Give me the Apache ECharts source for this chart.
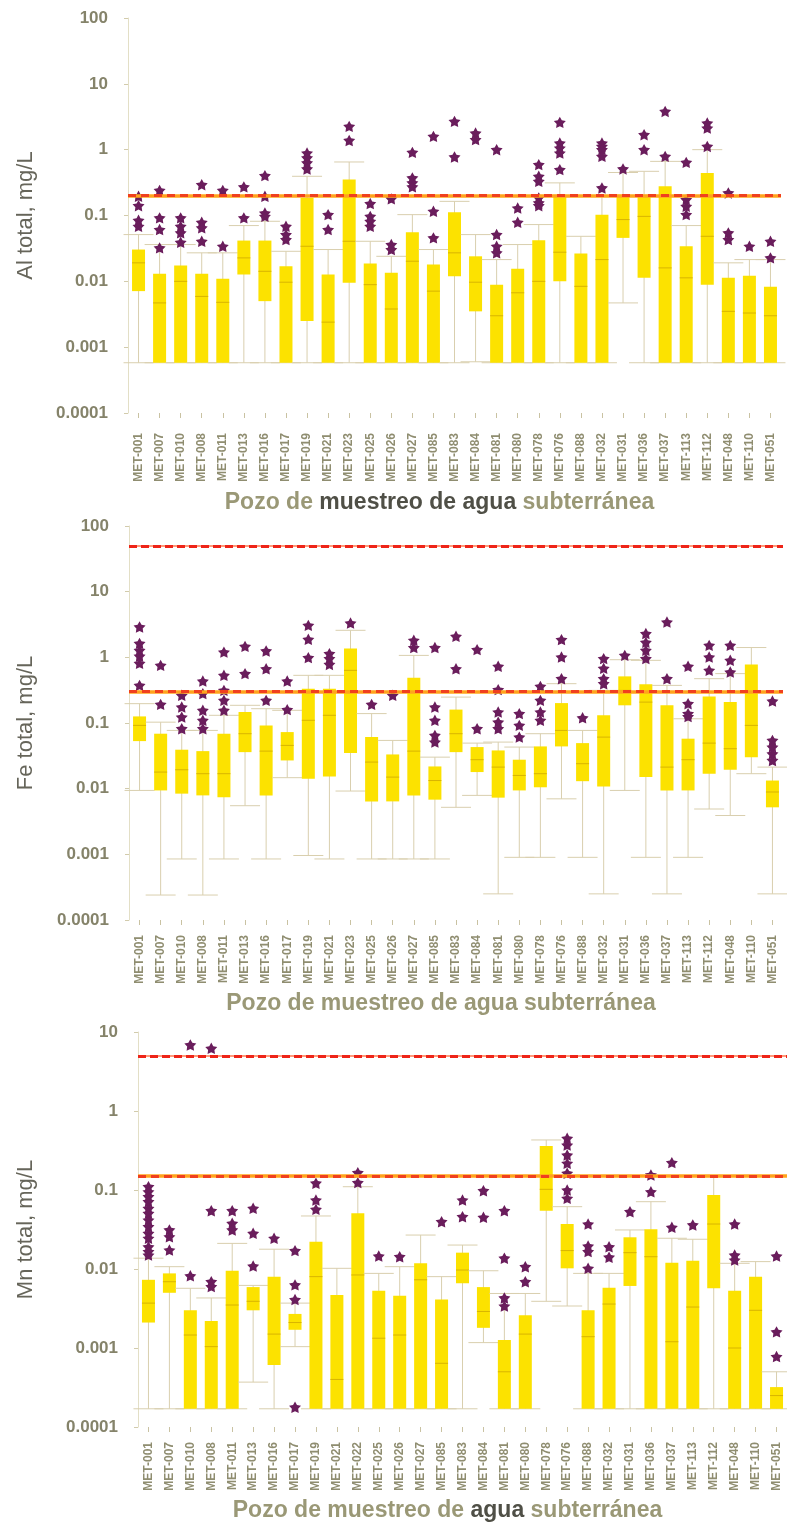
<!DOCTYPE html>
<html>
<head>
<meta charset="utf-8">
<script src="https://cdn.jsdelivr.net/npm/echarts@6/dist/echarts.min.js"></script>
<style>
  html, body { margin: 0; padding: 0; background: #ffffff; }
  #chart { width: 787px; height: 1525px; }
</style>
</head>
<body>
<div id="chart"></div>
<script>
// Sampling wells (Al and Fe panels)
const wellsAlFe = ['MET-001','MET-007','MET-010','MET-008','MET-011','MET-013','MET-016','MET-017','MET-019','MET-021','MET-023','MET-025','MET-026','MET-027','MET-085','MET-083','MET-084','MET-081','MET-080','MET-078','MET-076','MET-088','MET-032','MET-031','MET-036','MET-037','MET-113','MET-112','MET-048','MET-110','MET-051'];
// Sampling wells (Mn panel)
const wellsMn = ['MET-001','MET-007','MET-010','MET-008','MET-011','MET-013','MET-016','MET-017','MET-019','MET-021','MET-022','MET-025','MET-026','MET-027','MET-085','MET-083','MET-084','MET-081','MET-080','MET-078','MET-076','MET-088','MET-032','MET-031','MET-036','MET-037','MET-113','MET-112','MET-048','MET-110','MET-051'];

// Aluminium: [min, Q1, median, Q3, max] in mg/L
const alBoxes = [
  [0.00058, 0.0071, 0.0191, 0.0304, 0.0513],
  [0.00058, 0.00058, 0.0047, 0.0130, 0.0362],
  [0.00058, 0.00058, 0.0100, 0.0174, 0.0362],
  [0.00058, 0.00058, 0.0059, 0.0130, 0.0271],
  [0.00058, 0.00058, 0.0048, 0.0109, 0.0271],
  [0.00058, 0.0127, 0.0227, 0.0416, 0.0703],
  [0.00058, 0.0050, 0.0142, 0.0416, 0.0817],
  [0.00058, 0.00058, 0.0097, 0.0170, 0.0286],
  [0.00058, 0.0025, 0.0341, 0.185, 0.394],
  [0.00058, 0.00058, 0.0024, 0.0127, 0.0304],
  [0.00058, 0.0095, 0.0406, 0.351, 0.65],
  [0.00058, 0.00058, 0.0089, 0.0186, 0.0406],
  [0.00058, 0.00058, 0.0038, 0.0135, 0.024],
  [0.00058, 0.00058, 0.0202, 0.0556, 0.103],
  [0.00058, 0.00058, 0.0071, 0.018, 0.0304],
  [0.00058, 0.0119, 0.0271, 0.112, 0.164],
  [0.0006, 0.0035, 0.0097, 0.024, 0.0513],
  [0.00058, 0.00058, 0.0030, 0.0089, 0.0214],
  [0.00058, 0.00058, 0.0067, 0.0155, 0.0362],
  [0.00058, 0.00058, 0.0100, 0.0421, 0.0728],
  [0.00058, 0.0100, 0.0277, 0.207, 0.313],
  [0.00058, 0.00058, 0.0084, 0.0264, 0.0483],
  [0.00058, 0.00058, 0.0214, 0.103, 0.2],
  [0.0047, 0.0457, 0.0867, 0.207, 0.45],
  [0.00058, 0.0113, 0.097, 0.207, 0.469],
  [0.00058, 0.00058, 0.016, 0.277, 0.664],
  [0.00058, 0.00058, 0.0113, 0.0341, 0.0703],
  [0.00058, 0.0089, 0.0483, 0.443, 1.0],
  [0.00058, 0.00058, 0.0035, 0.0113, 0.0191],
  [0.00058, 0.00058, 0.0033, 0.0122, 0.0214],
  [0.00058, 0.00058, 0.0030, 0.0083, 0.0214]
];
const alOutliers = [
  [0.196, 0.141, 0.0846, 0.0686],
  [0.241, 0.092, 0.0611, 0.0322],
  [0.092, 0.0686, 0.0544, 0.0392],
  [0.294, 0.0789, 0.0649, 0.0406],
  [0.241, 0.0341],
  [0.272, 0.092],
  [0.403, 0.196, 0.109, 0.097],
  [0.0686, 0.0513, 0.0431],
  [0.89, 0.748, 0.628, 0.509],
  [0.103, 0.0611],
  [2.26, 1.38],
  [0.152, 0.097, 0.0817, 0.0686],
  [0.179, 0.0362, 0.0304],
  [0.91, 0.372, 0.313, 0.272],
  [1.59, 0.116, 0.0457],
  [2.69, 0.775],
  [1.79, 1.42],
  [1.0, 0.0513, 0.0341, 0.0271],
  [0.130, 0.0789],
  [0.592, 0.394, 0.330, 0.185, 0.155, 0.141],
  [2.60, 1.26, 1.06, 0.89, 0.497],
  [],
  [1.26, 1.12, 1.0, 0.79, 0.262],
  [0.51],
  [1.69, 1.0],
  [3.81, 0.79],
  [0.641, 0.174, 0.138, 0.103],
  [2.54, 2.13, 1.12],
  [0.220, 0.0544, 0.0431],
  [0.0341],
  [0.0406, 0.0227]
];

// Iron: [min, Q1, median, Q3, max] in mg/L
const feBoxes = [
  [0.0094, 0.0530, 0.092, 0.126, 0.197],
  [0.00024, 0.0094, 0.0179, 0.0687, 0.103],
  [0.00085, 0.0084, 0.0194, 0.0392, 0.0771],
  [0.00024, 0.0079, 0.0169, 0.0373, 0.0771],
  [0.00085, 0.0074, 0.0169, 0.0687, 0.131],
  [0.0055, 0.0360, 0.0687, 0.147, 0.186],
  [0.00085, 0.0079, 0.0373, 0.092, 0.165],
  [0.0147, 0.0269, 0.0456, 0.0727, 0.156],
  [0.00096, 0.0142, 0.110, 0.333, 0.532],
  [0.00085, 0.0153, 0.131, 0.333, 0.532],
  [0.0092, 0.0348, 0.634, 1.36, 2.58],
  [0.00085, 0.0064, 0.0254, 0.0610, 0.139],
  [0.00085, 0.0064, 0.0150, 0.0332, 0.0543],
  [0.00085, 0.0079, 0.0373, 0.49, 1.07],
  [0.00085, 0.0068, 0.0133, 0.0218, 0.0302],
  [0.0052, 0.0360, 0.0687, 0.160, 0.248],
  [0.0079, 0.0179, 0.0276, 0.0430, 0.0494],
  [0.00025, 0.0073, 0.0213, 0.0382, 0.0512],
  [0.0009, 0.0094, 0.0159, 0.0276, 0.0430],
  [0.0009, 0.0105, 0.0169, 0.0440, 0.0687],
  [0.0070, 0.0440, 0.0771, 0.201, 0.397],
  [0.0009, 0.0130, 0.0240, 0.0494, 0.0771],
  [0.00025, 0.0108, 0.0610, 0.131, 0.314],
  [0.0094, 0.186, 0.314, 0.513, 0.92],
  [0.0009, 0.0150, 0.208, 0.388, 0.90],
  [0.00025, 0.0094, 0.0213, 0.186, 0.374],
  [0.0009, 0.0094, 0.0276, 0.0577, 0.116],
  [0.0049, 0.0169, 0.0494, 0.254, 0.473],
  [0.0039, 0.0194, 0.0406, 0.208, 0.565],
  [0.0169, 0.0302, 0.092, 0.78, 1.41],
  [0.00025, 0.0052, 0.0089, 0.0133, 0.0213]
];
const feOutliers = [
  [2.90, 1.63, 1.28, 1.04, 0.81, 0.374],
  [0.755, 0.192],
  [0.264, 0.175, 0.123, 0.0818],
  [0.435, 0.280, 0.156, 0.110, 0.0818],
  [1.20, 0.532, 0.314, 0.221, 0.156],
  [1.47, 0.565],
  [1.25, 0.67, 0.221],
  [0.435, 0.160],
  [3.07, 1.88, 0.99],
  [1.14, 0.955, 0.78],
  [3.33],
  [0.192],
  [0.264],
  [1.82, 1.41],
  [1.41, 0.175, 0.110, 0.0647, 0.0512],
  [2.09, 0.67],
  [1.31, 0.0818],
  [0.73, 0.322, 0.147, 0.103, 0.0818],
  [0.139, 0.092, 0.061],
  [0.361, 0.221, 0.147, 0.110],
  [1.86, 1.01, 0.473],
  [0.120],
  [0.955, 0.68, 0.473, 0.397],
  [1.07],
  [2.30, 1.69, 1.28, 0.955],
  [3.45, 0.473],
  [0.73, 0.197, 0.139, 0.125],
  [1.52, 1.01, 0.634],
  [1.52, 0.90, 0.597],
  [],
  [0.216, 0.0543, 0.043, 0.034, 0.0269]
];

// Manganese: [min, Q1, median, Q3, max] in mg/L
const mnBoxes = [
  [0.00017, 0.0021, 0.0037, 0.0073, 0.0137],
  [0.00017, 0.0050, 0.0069, 0.0088, 0.0107],
  [0.00017, 0.00017, 0.00146, 0.0030, 0.0057],
  [0.00017, 0.00017, 0.00104, 0.0022, 0.0043],
  [0.00017, 0.00017, 0.0035, 0.0095, 0.0211],
  [0.00037, 0.0030, 0.0039, 0.0059, 0.0062],
  [0.00017, 0.00061, 0.0015, 0.0080, 0.0178],
  [0.00104, 0.0017, 0.0021, 0.0027, 0.0037],
  [0.00017, 0.00017, 0.0080, 0.0222, 0.0469],
  [0.00017, 0.00017, 0.0004, 0.0047, 0.0102],
  [0.00017, 0.00017, 0.0084, 0.0507, 0.110],
  [0.00017, 0.00017, 0.00133, 0.0053, 0.0088],
  [0.00017, 0.00017, 0.00146, 0.0046, 0.0107],
  [0.00017, 0.00017, 0.0073, 0.0118, 0.0269],
  [0.00017, 0.00017, 0.00064, 0.0041, 0.0080],
  [0.00017, 0.0066, 0.0097, 0.0161, 0.0201],
  [0.00117, 0.0018, 0.0029, 0.0059, 0.0095],
  [0.00017, 0.00017, 0.0005, 0.00126, 0.0049],
  [0.00017, 0.00017, 0.0015, 0.0026, 0.0049],
  [0.0039, 0.0547, 0.102, 0.361, 0.430],
  [0.0034, 0.0102, 0.0171, 0.0371, 0.0615],
  [0.00017, 0.00017, 0.00139, 0.0030, 0.0088],
  [0.00017, 0.00017, 0.0036, 0.0058, 0.0088],
  [0.00017, 0.0061, 0.0161, 0.0252, 0.0312],
  [0.00017, 0.00017, 0.0143, 0.0318, 0.0711],
  [0.00017, 0.00017, 0.0012, 0.0120, 0.0245],
  [0.00017, 0.00017, 0.0033, 0.0127, 0.0238],
  [0.00017, 0.0057, 0.0371, 0.0865, 0.147],
  [0.00017, 0.00017, 0.0010, 0.0053, 0.0118],
  [0.00017, 0.00017, 0.0030, 0.0080, 0.0124],
  [0.00017, 0.00017, 0.00025, 0.00032, 0.0005]
];
const mnOutliers = [
  [0.110, 0.095, 0.0822, 0.0711, 0.0586, 0.0507, 0.0417, 0.0343, 0.0283, 0.0245, 0.0191, 0.0166, 0.015],
  [0.0312, 0.0256, 0.0174],
  [6.85, 0.0082],
  [6.22, 0.0547, 0.0069, 0.0060],
  [0.0547, 0.0379, 0.0312],
  [0.0586, 0.0283, 0.0109],
  [0.0245],
  [0.0171, 0.0063, 0.0041, 0.000178],
  [0.122, 0.0747, 0.057],
  [],
  [0.166, 0.124],
  [0.0146],
  [0.0143],
  [],
  [0.0397],
  [0.0747, 0.0459],
  [0.098, 0.0451],
  [0.0547, 0.0137, 0.0043, 0.0034],
  [0.0107, 0.0069],
  [],
  [0.451, 0.371, 0.277, 0.218, 0.163, 0.100, 0.0785],
  [0.0371, 0.0195, 0.0166, 0.0102],
  [0.0191, 0.0141],
  [0.0531],
  [0.155, 0.095],
  [0.222, 0.0337],
  [0.0361],
  [],
  [0.0371, 0.015, 0.013],
  [],
  [0.0146, 0.0016, 0.00078]
];

// Guideline / limit values (mg/L)
const alLimits = { orange: [0.2], red: [] };
const feLimits = { orange: [0.3], red: [50, 0.0001] };
const mnLimits = { orange: [0.15], red: [5, 0.0001] };

const BOX_FILL = '#FCE200';
const MEDIAN = '#D8B400';
const WHISKER = '#D9CFAE';
const STAR = '#6A1D5C';
const TICK_TEXT = '#85836A';
const FONT = 'Liberation Sans, Arial, sans-serif';
// Chunky five-pointed star used for outliers
const STAR_PATH = 'path://M0,-10L3.1,-4.3L9.5,-3.1L5,1.6L5.9,8.1L0,5.3L-5.9,8.1L-5,1.6L-9.5,-3.1L-3.1,-4.3Z';

function renderBox(params, api) {
  const i = api.value(0);
  const x = api.coord([i, api.value(3)])[0];
  const yMin = api.coord([i, api.value(1)])[1];
  const yQ1 = api.coord([i, api.value(2)])[1];
  const yMed = api.coord([i, api.value(3)])[1];
  const yQ3 = api.coord([i, api.value(4)])[1];
  const yMax = api.coord([i, api.value(5)])[1];
  const bw = 13, cw = 30;
  const thin = { stroke: WHISKER, lineWidth: 1 };
  return {
    type: 'group',
    children: [
      { type: 'line', shape: { x1: x, y1: yMax, x2: x, y2: yMin }, style: thin },
      { type: 'line', shape: { x1: x - cw / 2, y1: yMax, x2: x + cw / 2, y2: yMax }, style: thin },
      { type: 'line', shape: { x1: x - cw / 2, y1: yMin, x2: x + cw / 2, y2: yMin }, style: thin },
      { type: 'rect', shape: { x: x - bw / 2, y: yQ3, width: bw, height: Math.max(1, yQ1 - yQ3) }, style: { fill: BOX_FILL } },
      { type: 'line', shape: { x1: x - bw / 2, y1: yMed, x2: x + bw / 2, y2: yMed }, style: { stroke: MEDIAN, lineWidth: 1 } }
    ]
  };
}

function limitLines(limits) {
  const data = [];
  limits.orange.forEach(v => {
    data.push({ yAxis: v, lineStyle: { color: '#FFA41C', width: 3.5, type: 'solid' } });
    data.push({ yAxis: v, lineStyle: { color: '#F0401E', width: 3, type: [8, 5] } });
  });
  limits.red.forEach(v => {
    data.push({ yAxis: v, lineStyle: { color: '#FF9A7A', width: 2, type: 'solid' } });
    data.push({ yAxis: v, lineStyle: { color: '#EE2418', width: 3, type: [8, 4] } });
  });
  return data;
}

const panels = [
  { wells: wellsAlFe, boxes: alBoxes, outliers: alOutliers, limits: alLimits, name: 'Al total, mg/L',
    grid: { left: 128, top: 18, width: 653, height: 395 }, min: 0.0001, max: 100, split: 6,
    yNameGap: 91, xLabelMargin: 20, xNameGap: 78,
    xName: '{o|Pozo de }{d|muestreo de agua }{o|subterránea}' },
  { wells: wellsAlFe, boxes: feBoxes, outliers: feOutliers, limits: feLimits, name: 'Fe total, mg/L',
    grid: { left: 129, top: 526, width: 654, height: 394 }, min: 0.0001, max: 100, split: 6,
    yNameGap: 92, xLabelMargin: 15, xNameGap: 72,
    xName: '{o|Pozo de muestreo de agua subterránea}' },
  { wells: wellsMn, boxes: mnBoxes, outliers: mnOutliers, limits: mnLimits, name: 'Mn total, mg/L',
    grid: { left: 138, top: 1032, width: 656, height: 395 }, min: 0.0001, max: 10, split: 5,
    yNameGap: 101, xLabelMargin: 15, xNameGap: 72,
    xName: '{o|Pozo de muestreo de }{d|agua }{o|subterránea}' }
];

const option = {
  backgroundColor: '#ffffff',
  animation: false,
  textStyle: { fontFamily: FONT },
  grid: [], xAxis: [], yAxis: [], series: []
};

panels.forEach((p, k) => {
  option.grid.push(p.grid);
  option.xAxis.push({
    type: 'category', gridIndex: k, data: p.wells, boundaryGap: true,
    axisLine: { show: false },
    axisTick: { show: true, alignWithLabel: true, length: 5, lineStyle: { color: '#C9C2A2' } },
    axisLabel: { interval: 0, rotate: 90, margin: p.xLabelMargin, fontSize: 12, fontWeight: 'bold', color: '#8F8D70', fontFamily: FONT },
    splitLine: { show: false },
    name: p.xName, nameLocation: 'middle', nameGap: p.xNameGap,
    nameTextStyle: {
      padding: [0, 30, 0, 0],
      rich: {
        o: { fontSize: 23, fontWeight: 'bold', color: '#9A9876', fontFamily: FONT },
        d: { fontSize: 23, fontWeight: 'bold', color: '#4F4F46', fontFamily: FONT }
      }
    }
  });
  option.yAxis.push({
    type: 'log', logBase: 10, gridIndex: k, min: p.min, max: p.max, splitNumber: p.split,
    axisLine: { show: true, lineStyle: { color: '#E3DFC6', width: 1 } },
    axisTick: { show: true, length: 4, lineStyle: { color: '#D2CBAC' } },
    axisLabel: { margin: 20, fontSize: 17, fontWeight: 'bold', color: TICK_TEXT, fontFamily: FONT,
      formatter: v => String(parseFloat(Number(v).toPrecision(6))) },
    splitLine: { show: false },
    name: p.name, nameLocation: 'middle', nameGap: p.yNameGap,
    nameTextStyle: { fontSize: 22, color: '#66655A', fontFamily: FONT }
  });
  option.series.push({
    type: 'custom', xAxisIndex: k, yAxisIndex: k, z: 2,
    renderItem: renderBox,
    encode: { x: 0, y: [1, 2, 3, 4, 5] },
    data: p.boxes.map((b, i) => [i].concat(b))
  });
  option.series.push({
    type: 'line', xAxisIndex: k, yAxisIndex: k, z: 3, data: [], silent: true,
    markLine: { silent: true, symbol: ['none', 'none'], label: { show: false }, data: limitLines(p.limits) }
  });
  const pts = [];
  p.outliers.forEach((list, i) => list.forEach(v => pts.push([i, v])));
  option.series.push({
    type: 'scatter', xAxisIndex: k, yAxisIndex: k, z: 4, data: pts,
    symbol: STAR_PATH, symbolSize: 12, symbolKeepAspect: true,
    itemStyle: { color: STAR, opacity: 1 }
  });
});

const chart = echarts.init(document.getElementById('chart'), null, { renderer: 'canvas' });
chart.setOption(option);
</script>
</body>
</html>
